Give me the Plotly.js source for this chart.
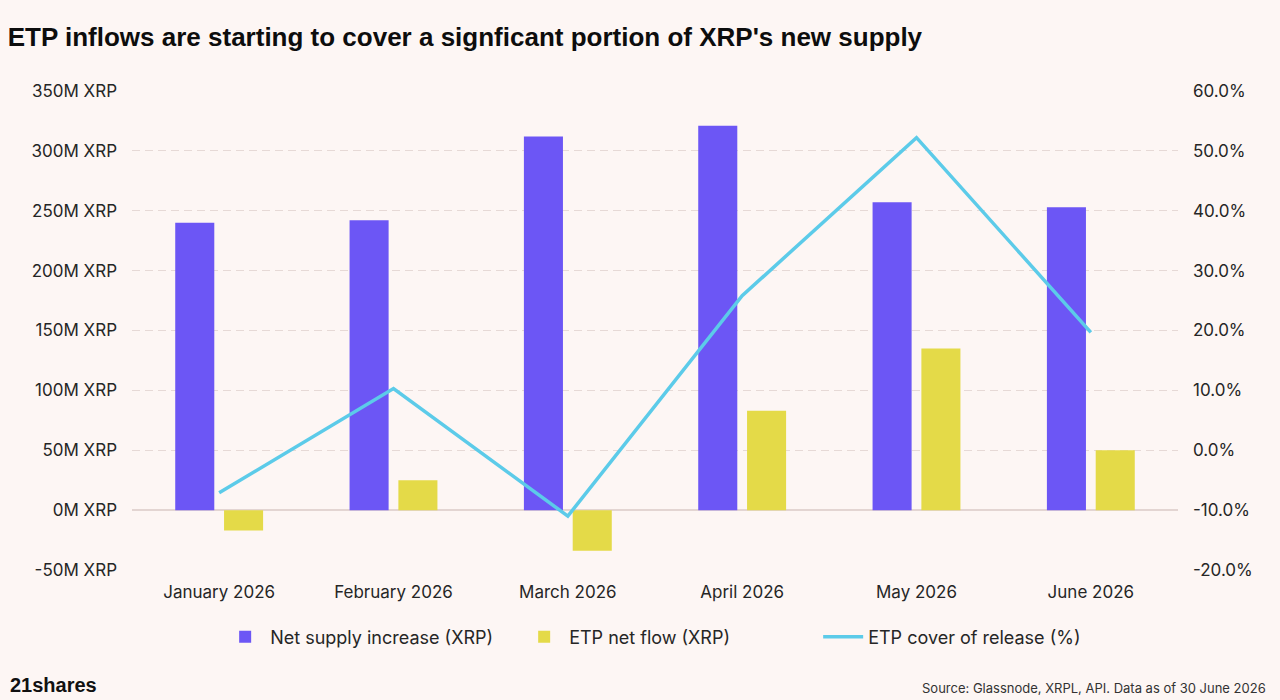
<!DOCTYPE html>
<html>
<head>
<meta charset="utf-8">
<script src="https://cdn.plot.ly/plotly-3.0.1.min.js"></script>
<style>
html,body{margin:0;padding:0;background:#fdf6f4;}
#chart{width:1280px;height:700px;}
</style>
</head>
<body>
<div id="chart"></div>
<script>
const months = ["January 2026","February 2026","March 2026","April 2026","May 2026","June 2026"];
const netSupply = [240, 242, 312, 321, 257, 253];        // M XRP
const etpFlow = [-17, 25, -34, 83, 135, 50];              // M XRP
const etpCover = [-7.1, 10.3, -11.0, 25.8, 52.2, 19.7];   // %
const leftTicks = [-50, 0, 50, 100, 150, 200, 250, 300, 350];
const leftTickText = leftTicks.map(v => v + "M XRP");
const rightTicks = [-20, -10, 0, 10, 20, 30, 40, 50, 60];
const rightTickText = rightTicks.map(v => v.toFixed(1) + "%");

const tickFont = {family: "Inter, Roboto, sans-serif", size: 17, color: "#262626"};

const traces = [
  {type: "bar", name: "Net supply increase (XRP)", x: months, y: netSupply,
   marker: {color: "#6c56f5"}, yaxis: "y"},
  {type: "bar", name: "ETP net flow (XRP)", x: months, y: etpFlow,
   marker: {color: "#e4da48"}, yaxis: "y"},
  {type: "scatter", mode: "lines", name: "ETP cover of release (%)", x: months, y: etpCover,
   line: {color: "#5ccbe9", width: 3.5}, yaxis: "y2"}
];

const layout = {
  width: 1280, height: 700,
  paper_bgcolor: "#fdf6f4", plot_bgcolor: "#fdf6f4",
  margin: {l: 132, r: 102, t: 91, b: 130},
  title: {text: "ETP inflows are starting to cover a signficant portion of XRP's new supply",
          font: {family: "Liberation Sans Narrow, Arial Narrow, Liberation Sans, sans-serif", size: 26, color: "#0d0d0d", weight: 700},
          x: 0.006, xanchor: "left", xref: "container", y: 0.948, yanchor: "middle", yref: "container"},
  barmode: "group", bargap: 0.44, bargroupgap: 0.2,
  showlegend: true,
  legend: {orientation: "h", x: 0.172, xref: "container", xanchor: "left", y: 0.09, yref: "container", yanchor: "middle",
           entrywidth: 244, entrywidthmode: "pixels", itemwidth: 40,
           font: {family: "Inter, Roboto, sans-serif", size: 18, color: "#262626"}, traceorder: "normal"},
  xaxis: {type: "category", tickfont: tickFont, showgrid: false, zeroline: false, showline: false,
          ticks: "", ticklabelstandoff: 10},
  yaxis: {range: [-50, 350], tickvals: leftTicks, ticktext: leftTickText, tickfont: tickFont,
          showgrid: true, gridcolor: "#e6d9d6", griddash: "8px,5px", gridwidth: 1.2,
          zeroline: true, zerolinecolor: "#e3d5d2", zerolinewidth: 1.5,
          ticks: "", ticklabelstandoff: 14, fixedrange: true},
  yaxis2: {range: [-20, 60], overlaying: "y", side: "right", tickvals: rightTicks, ticktext: rightTickText,
           tickfont: tickFont, showgrid: false, zeroline: false, ticks: "", ticklabelstandoff: 14},
  annotations: [
    {text: "<b>21shares</b>", xref: "paper", yref: "paper", x: -0.1185, y: -0.268, xanchor: "left", yanchor: "bottom",
     showarrow: false, font: {family: "Liberation Sans, Arial, sans-serif", size: 20, color: "#111"}},
    {text: "Source: Glassnode, XRPL, API. Data as of 30 June 2026", xref: "paper", yref: "paper", x: 1.086, y: -0.268,
     xanchor: "right", yanchor: "bottom", showarrow: false,
     font: {family: "Inter, Roboto, sans-serif", size: 13, color: "#333"}}
  ]
};

Plotly.newPlot("chart", traces, layout, {displayModeBar: false, staticPlot: true});
</script>
</body>
</html>
